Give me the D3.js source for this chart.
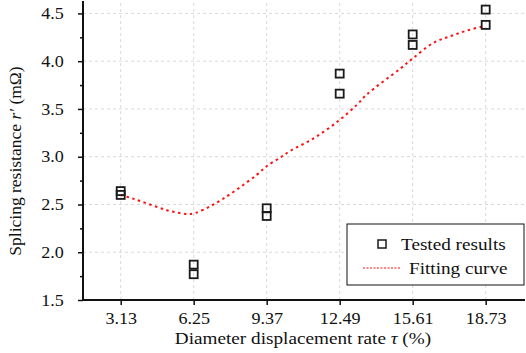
<!DOCTYPE html>
<html>
<head>
<meta charset="utf-8">
<script src="https://cdn.jsdelivr.net/npm/d3@7"></script>
<style>
  body { margin: 0; background: #fff; }
  svg { display: block; font-family: "Liberation Serif", "Times New Roman", serif; }
</style>
</head>
<body>
<svg width="526" height="353"></svg>
<script>
// tested values (two samples per rate) and fitted curve
var rates = [3.13, 6.25, 9.37, 12.49, 15.61, 18.73];
var testedHigh = [2.64, 1.87, 2.46, 3.87, 4.28, 4.54];
var testedLow = [2.60, 1.77, 2.38, 3.66, 4.17, 4.38];
var fitX = [3.13, 3.67, 4.38, 5.10, 5.66, 6.00, 6.31, 6.95, 7.51, 8.23, 8.94, 9.37, 9.94, 10.37, 11.36, 12.36, 13.21, 13.64, 15.07, 15.62, 16.48, 17.20, 17.92, 18.70];
var fitY = [2.60, 2.56, 2.50, 2.44, 2.41, 2.40, 2.41, 2.48, 2.56, 2.68, 2.81, 2.90, 2.99, 3.06, 3.19, 3.36, 3.54, 3.65, 3.92, 4.03, 4.19, 4.26, 4.32, 4.37];
var yTicks = [1.5, 2.0, 2.5, 3.0, 3.5, 4.0, 4.5];
var yMinor = [1.75, 2.25, 2.75, 3.25, 3.75, 4.25];

var svg = d3.select("svg"),
    pLeft = 83, pRight = 525, pTop = 1, pBottom = 300,
    stretch = "scale(1.13,1)"; // source figure is a bit wider than tall

var x = d3.scaleLinear().domain([1.519, 20.41]).range([pLeft, pRight]),
    y = d3.scaleLinear().domain([1.5, 4.63]).range([pBottom, pTop]);

// grid
var grid = svg.append("g").attr("stroke", "#d9d9d9").attr("stroke-width", 1).attr("stroke-dasharray", "3,3");
grid.selectAll(".vg").data(rates).enter().append("line")
    .attr("x1", d => x(d)).attr("x2", d => x(d))
    .attr("y1", pBottom).attr("y2", pTop);
grid.selectAll(".hg").data(yTicks.slice(1)).enter().append("line")
    .attr("x1", pLeft).attr("x2", pRight)
    .attr("y1", d => y(d)).attr("y2", d => y(d));

// axes
var xAxis = svg.append("g")
    .attr("transform", "translate(0," + pBottom + ")")
    .call(d3.axisBottom(x).tickValues(rates).tickFormat(d3.format(".2f")).tickSize(5).tickPadding(8).tickSizeOuter(0));

var yAxis = svg.append("g")
    .attr("transform", "translate(" + pLeft + ",0)")
    .call(d3.axisLeft(y).tickValues(yTicks).tickFormat(d3.format(".1f")).tickSize(5).tickPadding(12).tickSizeOuter(0));

svg.append("g")
    .attr("transform", "translate(" + pLeft + ",0)")
    .call(d3.axisLeft(y).tickValues(yMinor).tickFormat("").tickSize(3).tickSizeOuter(0))
    .select(".domain").remove();

svg.selectAll(".domain").attr("stroke", "#111").attr("stroke-width", 2);
svg.selectAll(".tick line").attr("stroke", "#111").attr("stroke-width", 1.5);
svg.selectAll(".tick text")
    .attr("font-family", "Liberation Serif, serif")
    .attr("font-size", 16)
    .attr("fill", "#111")
    .attr("transform", stretch);

// x axis line reaches the right edge
xAxis.select(".domain").attr("d", "M" + pLeft + ",0H" + pRight);
yAxis.select(".domain").attr("d", "M0," + pBottom + "V" + pTop);

// fitted curve
var fit = fitX.map((d, i) => [d, fitY[i]]);
svg.append("path")
    .datum(fit)
    .attr("fill", "none")
    .attr("stroke", "#ff1010")
    .attr("stroke-width", 2)
    .attr("stroke-dasharray", "2.5,3.5")
    .attr("d", d3.line().x(d => x(d[0])).y(d => y(d[1])).curve(d3.curveCatmullRom));

// tested points
var pts = [];
rates.forEach((r, i) => { pts.push([r, testedHigh[i]]); pts.push([r, testedLow[i]]); });
svg.selectAll(".pt").data(pts).enter().append("rect")
    .attr("class", "pt")
    .attr("x", d => x(d[0]) - 4).attr("y", d => y(d[1]) - 4)
    .attr("width", 8).attr("height", 8)
    .attr("fill", "none").attr("stroke", "#1a1a1a").attr("stroke-width", 1.8);

// legend
var lg = svg.append("g");
lg.append("rect").attr("x", 347).attr("y", 224).attr("width", 177).attr("height", 61)
    .attr("fill", "#fff").attr("stroke", "#111").attr("stroke-width", 1);
lg.append("rect").attr("x", 378).attr("y", 240).attr("width", 8).attr("height", 8)
    .attr("fill", "none").attr("stroke", "#1a1a1a").attr("stroke-width", 1.5);
lg.append("text").attr("transform", "translate(401,250) " + stretch)
    .attr("font-size", 17).attr("fill", "#111").text("Tested results");
lg.append("line").attr("x1", 363).attr("x2", 401).attr("y1", 268).attr("y2", 268)
    .attr("stroke", "#ff1010").attr("stroke-width", 1.2).attr("stroke-dasharray", "2,1.5");
lg.append("text").attr("transform", "translate(409,274) " + stretch)
    .attr("font-size", 17).attr("fill", "#111").text("Fitting curve");

// axis titles
var xt = svg.append("text").attr("transform", "translate(303,344) " + stretch).attr("text-anchor", "middle")
    .attr("font-size", 17).attr("fill", "#111");
xt.append("tspan").text("Diameter displacement rate ");
xt.append("tspan").attr("font-style", "italic").text("τ");
xt.append("tspan").text(" (%)");

var yt = svg.append("text").attr("transform", "translate(21,161) rotate(-90)").attr("text-anchor", "middle")
    .attr("font-size", 17.5).attr("fill", "#111");
yt.append("tspan").text("Splicing resistance ");
yt.append("tspan").attr("font-style", "italic").text("r′");
yt.append("tspan").text(" (mΩ)");
</script>
</body>
</html>
